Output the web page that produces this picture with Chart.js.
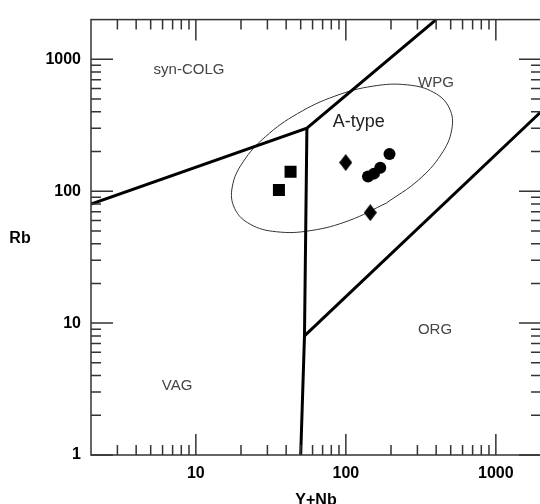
<!DOCTYPE html>
<html><head><meta charset="utf-8">
<script src="https://cdn.jsdelivr.net/npm/chart.js@4.4.1/dist/chart.umd.min.js"></script>
<style>html,body{margin:0;padding:0;background:#fff;overflow:hidden;width:540px;height:504px}canvas{display:block}</style>
</head><body>
<canvas id="c" width="550" height="510"></canvas>
<script>
// ---- data ----
const xTickLabels = [10, 100, 1000];
const yTickLabels = [1, 10, 100, 1000];
const xMinorTicks = [3,4,5,6,7,8,9,20,30,40,50,60,70,80,90,200,300,400,500,600,700,800,900];
const yMinorTicks = [2,3,4,5,6,7,8,9,20,30,40,50,60,70,80,90,200,300,400,500,600,700,800,900];

const squareSamples  = [{x:42.8,y:140.7},{x:35.8,y:102.3}];
const diamondSamples = [{x:99.8,y:165},{x:145.5,y:68.8}];
const circleSamples  = [{x:195.5,y:191.8},{x:169.7,y:150.7},{x:140.5,y:129},{x:154,y:135.9}];

const synColgBoundary = [{x:2,y:80},{x:55,y:300},{x:400,y:2000}];
const vagBoundary     = [{x:55,y:300},{x:53,y:8},{x:50,y:1}];
const wpgOrgBoundary  = [{x:53,y:8},{x:2000,y:400}];
const aTypeField = [
  {x:186.2,y:81.3},{x:105.1,y:59.9},{x:58.55,y:50.3},{x:34.55,y:49.25},
  {x:23.0,y:56.25},{x:18.16,y:73.8},{x:17.48,y:107.6},{x:20.63,y:166.6},
  {x:29.24,y:260.2},{x:47.7,y:387.7},{x:84.6,y:526.0},{x:151.8,y:626.0},
  {x:257.2,y:640.0},{x:386.4,y:560.3},{x:489.5,y:427.2},{x:508.3,y:293.0},
  {x:430.7,y:189.1},{x:304.0,y:121.2},{x:186.2,y:81.3}
];
const fieldLabels = [
  {text:'syn-COLG', x:9.0, y:830},
  {text:'WPG', x:399, y:663},
  {text:'ORG', x:393, y:8.93},
  {text:'VAG', x:7.5, y:3.34},
  {text:'A-type', x:122, y:333}
];

// ---- styles ----
const FONT = "'Liberation Sans', Arial, sans-serif";
const diamondImg = document.createElement('canvas');
diamondImg.width = 13; diamondImg.height = 17;
(function(){const d=diamondImg.getContext('2d');d.fillStyle='#000';d.beginPath();
 d.moveTo(6.5,0);d.lineTo(13,8.5);d.lineTo(6.5,17);d.lineTo(0,8.5);d.closePath();d.fill();})();

const framePlugin = {
  id:'frame',
  afterDatasetsDraw(chart){
    const ctx = chart.ctx, xs = chart.scales.x, ys = chart.scales.y;
    ctx.save();
    fieldLabels.forEach(l=>{
      ctx.font = (l.text==='A-type' ? '18px ' : '15px ') + FONT;
      ctx.fillStyle = l.text==='A-type' ? '#222' : '#444';
      ctx.textAlign='center'; ctx.textBaseline='middle';
      ctx.fillText(l.text, xs.getPixelForValue(l.x), ys.getPixelForValue(l.y));
    });
    ctx.restore();
  },
  afterDraw(chart){
    const ctx = chart.ctx, xs = chart.scales.x, ys = chart.scales.y;
    const {left,right,top,bottom} = chart.chartArea;
    ctx.save();
    ctx.strokeStyle = '#333'; ctx.lineWidth = 1.5;
    ctx.strokeRect(left, top, right-left, bottom-top);
    ctx.beginPath();
    const xt = (vals,len)=>vals.forEach(v=>{const p=xs.getPixelForValue(v);
      ctx.moveTo(p,bottom);ctx.lineTo(p,bottom-len);ctx.moveTo(p,top);ctx.lineTo(p,top+len);});
    const yt = (vals,len)=>vals.forEach(v=>{const p=ys.getPixelForValue(v);
      ctx.moveTo(left,p);ctx.lineTo(left+len,p);ctx.moveTo(right,p);ctx.lineTo(right-len,p);});
    xt(xTickLabels,21); xt(xMinorTicks,10); yt(yTickLabels,22); yt(yMinorTicks,10);
    ctx.stroke();
    ctx.fillStyle='#000'; ctx.font='bold 16px '+FONT; ctx.textAlign='center'; ctx.textBaseline='middle';
    ctx.fillText('Rb', 20, (top+bottom)/2 + 1);
    ctx.restore();
  }
};

const lineDs = (data,w,c,t)=>({data, showLine:true, borderColor:c, borderWidth:w, pointRadius:0, tension:t||0, fill:false, borderJoinStyle:'miter'});

new Chart(document.getElementById('c'), {
  type:'scatter',
  data:{datasets:[
    {data:squareSamples, pointStyle:'rect', pointRadius:8.5, backgroundColor:'#000', borderWidth:0},
    {data:diamondSamples, pointStyle:diamondImg, pointRadius:8, backgroundColor:'#000', borderWidth:0},
    {data:circleSamples, pointStyle:'circle', pointRadius:6, backgroundColor:'#000', borderColor:'#000', borderWidth:0},
    lineDs(synColgBoundary,3,'#000'),
    lineDs(vagBoundary,3,'#000'),
    lineDs(wpgOrgBoundary,3,'#000'),
    lineDs(aTypeField,1,'#333',0.4)
  ]},
  options:{
    responsive:false, animation:false, devicePixelRatio:1,
    layout:{padding:{left:0,top:14,right:9,bottom:0}},
    plugins:{legend:{display:false}, tooltip:{enabled:false}},
    scales:{
      x:{type:'logarithmic', position:'bottom', min:2, max:2000,
        grid:{display:false, drawTicks:false}, border:{display:false},
        ticks:{padding:9, color:'#000', font:{family:FONT,size:16,weight:'bold'}, maxRotation:0, autoSkip:false, callback:v=>String(v)},
        afterBuildTicks:s=>{s.ticks = xTickLabels.map(v=>({value:v}));},
        afterFit:s=>{s.height = 55;},
        title:{display:true, text:'Y+Nb', color:'#000', font:{family:FONT,size:16,weight:'bold'}, padding:{top:0,bottom:0}}
      },
      y:{type:'logarithmic', position:'left', min:1, max:2000,
        grid:{display:false, drawTicks:false}, border:{display:false},
        ticks:{padding:10, color:'#000', font:{family:FONT,size:16,weight:'bold'}, autoSkip:false, callback:v=>String(v)},
        afterBuildTicks:s=>{s.ticks = yTickLabels.map(v=>({value:v}));},
        afterFit:s=>{s.width = 91;}
      }
    }
  },
  plugins:[framePlugin]
});
</script>
</body></html>
